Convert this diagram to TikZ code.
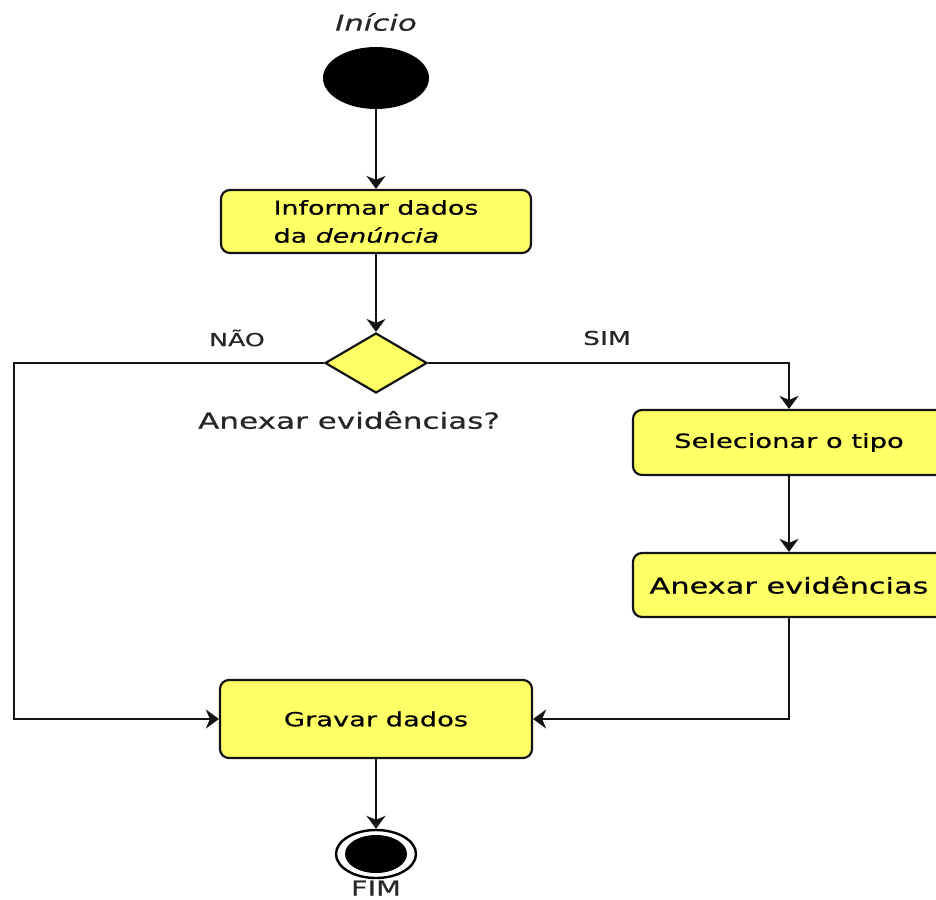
\documentclass[tikz,border=0pt]{standalone}
\usepackage{fontspec}
\setmainfont{DejaVu Sans}[FakeStretch=1.4, FakeBold=0.5]
\usetikzlibrary{arrows.meta,shapes.geometric}
\definecolor{actfill}{RGB}{255,255,102}
\definecolor{edge}{RGB}{20,20,20}
\tikzset{
  act/.style={draw=edge, fill=actfill, rounded corners=9pt, line width=2.2pt,
    inner sep=0pt, align=center},
  decision/.style={diamond, draw=edge, fill=actfill, line width=2.2pt, inner sep=0pt,
    minimum width=102pt, minimum height=60pt},
  flow/.style={draw=edge, line width=2.6pt, -{Stealth[length=13pt,width=19pt,inset=4pt]}},
  lbl/.style={inner sep=0pt, text=black!85}
}
\begin{document}
\begin{tikzpicture}[x=1pt, y=-1pt]
  \clip (0,0) rectangle (936,899);
  \fill[white] (0,0) rectangle (936,899);

  % start node
  \node[lbl, font=\fontsize{22}{26}\selectfont\itshape] (linicio) at (376,22) {Início};
  \node[ellipse, fill=black, minimum width=106pt, minimum height=62pt, inner sep=0pt] (start) at (376,78) {};

  % activities
  \node[act, minimum width=310pt, minimum height=63pt, align=left,
        font=\fontsize{19.2}{28}\selectfont] (inf) at (376,221.5)
        {Informar dados\\da \textit{denúncia}};
  \node[decision] (dec) at (376,363) {};
  \node[act, minimum width=312pt, minimum height=65pt,
        font=\fontsize{19.5}{24}\selectfont] (sel) at (789,442.5) {Selecionar o tipo};
  \node[act, minimum width=312pt, minimum height=64pt,
        font=\fontsize{21.7}{26}\selectfont] (anx) at (789,585) {Anexar evidências};
  \node[act, minimum width=312pt, minimum height=78pt,
        font=\fontsize{19.5}{24}\selectfont] (grav) at (376,719) {Gravar dados};

  % final node
  \node[ellipse, draw=black, fill=white, line width=2.4pt, minimum width=80pt,
        minimum height=48pt, inner sep=0pt] (fim) at (376,854) {};
  \node[ellipse, fill=black, minimum width=62pt, minimum height=38pt, inner sep=0pt]
        (fimcore) at (376,854) {};

  % labels
  \node[lbl, font=\fontsize{18}{22}\selectfont] (lnao) at (237,338) {NÃO};
  \node[lbl, font=\fontsize{19}{22}\selectfont] (lsim) at (607,338) {SIM};
  \node[lbl, font=\fontsize{22.2}{26}\selectfont] (lq) at (349,420) {Anexar evidências?};
  \node[lbl, font=\fontsize{20.6}{24}\selectfont] (lfim) at (376,888) {FIM};

  % connectors
  \coordinate (cl) at (14,363);
  \draw[flow] (start) -- (inf);
  \draw[flow] (inf) -- (dec);
  \draw[flow] (dec.west) -- (cl) |- (grav.west);
  \draw[flow] (dec.east) -| (sel.north);
  \draw[flow] (sel) -- (anx);
  \draw[flow] (anx.south) |- (grav.east);
  \draw[flow] (grav) -- (fim);
\end{tikzpicture}
\end{document}
